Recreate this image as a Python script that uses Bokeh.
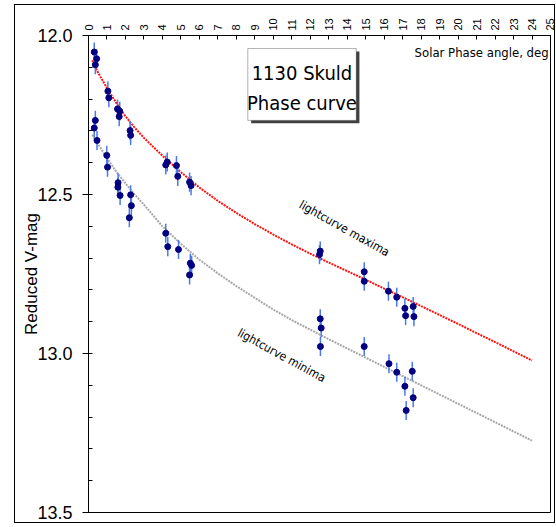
from bokeh.plotting import figure
from bokeh.models import (Range1d, SingleIntervalTicker, Label, BoxAnnotation,
                          ColumnDataSource, NumeralTickFormatter)
from bokeh.embed import file_html
from bokeh.resources import INLINE

# Phase-curve fits (solar phase angle in degrees vs reduced V magnitude)
fit_phase = [0.2, 0.5, 1, 1.5, 2, 2.5, 3, 4, 5, 6, 7, 8, 9, 10, 11, 12,
             13, 14, 15, 16, 17, 18, 19, 20, 21, 22, 23, 24]
fit_max = [12.078, 12.115, 12.165, 12.212, 12.254, 12.290, 12.322, 12.378,
           12.430, 12.478, 12.520, 12.558, 12.593, 12.626, 12.657, 12.686,
           12.714, 12.741, 12.768, 12.796, 12.823, 12.851, 12.879, 12.907,
           12.936, 12.964, 12.993, 13.022]
fit_min = [12.312, 12.340, 12.385, 12.428, 12.465, 12.500, 12.532, 12.600,
           12.655, 12.705, 12.748, 12.788, 12.825, 12.862, 12.895, 12.925,
           12.955, 12.984, 13.013, 13.042, 13.071, 13.100, 13.129, 13.158,
           13.187, 13.216, 13.245, 13.274]

# Observed lightcurve maxima
max_phase = [0.31, 0.44, 0.37, 1.05, 1.10, 1.57, 1.69, 1.66, 2.25, 2.28,
             4.18, 4.26, 4.76, 4.83, 5.47, 5.55, 12.54, 12.50, 14.92, 14.92,
             16.23, 16.68, 17.12, 17.16, 17.57, 17.61]
max_mag = [12.052, 12.073, 12.092, 12.175, 12.196, 12.231, 12.238, 12.255,
           12.299, 12.314, 12.407, 12.398, 12.409, 12.443, 12.461, 12.472,
           12.678, 12.689, 12.743, 12.773, 12.804, 12.823, 12.858, 12.881,
           12.852, 12.884]

# Observed lightcurve minima
min_phase = [0.37, 0.31, 0.46, 0.99, 1.03, 1.60, 1.59, 1.71, 2.28, 2.32,
             2.21, 4.18, 4.29, 4.87, 5.51, 5.58, 5.47, 12.54, 12.59, 12.55,
             14.92, 16.26, 16.68, 17.12, 17.19, 17.52, 17.57]
min_mag = [12.267, 12.291, 12.330, 12.377, 12.414, 12.463, 12.477, 12.503,
           12.501, 12.535, 12.573, 12.622, 12.664, 12.673, 12.716, 12.723,
           12.753, 12.891, 12.920, 12.978, 12.978, 13.032, 13.059, 13.103,
           13.179, 13.056, 13.139]

mag_err = 0.03

NARROW = "DejaVu Sans Condensed"
SANS = "Liberation Sans"

# page template: thin black frame drawn around the whole graphic
FRAME_TEMPLATE = """
{% block postamble %}
<style>
  body::after {
    content: "";
    position: absolute;
    left: 14px;
    top: 4px;
    width: 541px;
    height: 519px;
    box-sizing: border-box;
    border: 1px solid black;
    pointer-events: none;
  }
</style>
{% endblock %}
"""

p = figure(frame_width=462, frame_height=477, output_backend="svg",
           toolbar_location=None,
           x_range=Range1d(0, 25), y_range=Range1d(13.5, 12.0),
           x_axis_location="above", y_axis_location="left",
           min_border_left=88, min_border_right=6, min_border_top=35,
           min_border_bottom=15)
p.background_fill_color = "white"
p.border_fill_color = "white"
p.outline_line_color = "black"
p.outline_line_width = 1
p.xgrid.visible = False
p.ygrid.visible = False

# top axis: solar phase angle
xa = p.xaxis[0]
xa.ticker = SingleIntervalTicker(interval=1, num_minor_ticks=0)
xa.major_label_orientation = 1.5708
xa.major_label_text_font = SANS
xa.major_label_text_font_size = "11px"
xa.major_label_text_color = "black"
xa.major_label_standoff = 5
xa.major_tick_in = 4
xa.major_tick_out = 0
xa.minor_tick_line_color = None
xa.axis_line_color = "black"
xa.major_tick_line_color = "black"

# left axis: reduced magnitude
ya = p.yaxis[0]
ya.ticker = SingleIntervalTicker(interval=0.5, num_minor_ticks=5)
ya.formatter = NumeralTickFormatter(format="0.0")
ya.major_label_text_font = SANS
ya.major_label_text_font_size = "18px"
ya.major_label_text_color = "black"
ya.major_label_standoff = 10
ya.major_tick_out = 6
ya.major_tick_in = 3
ya.minor_tick_in = 4
ya.minor_tick_out = 0
ya.axis_line_color = "black"
ya.major_tick_line_color = "black"
ya.minor_tick_line_color = "black"
ya.axis_label = "Reduced V-mag"
ya.axis_label_text_font = SANS
ya.axis_label_text_font_style = "normal"
ya.axis_label_text_font_size = "17px"
ya.axis_label_text_color = "black"
ya.axis_label_standoff = -7

# fitted phase curves
fits = ColumnDataSource(dict(x=fit_phase, ymax=fit_max, ymin=fit_min))
p.line("x", "ymax", source=fits, line_color="#ff1010", line_width=2,
       line_dash="2 1")
p.line("x", "ymin", source=fits, line_color="#a8a8a8", line_width=2,
       line_dash="2 1")

# observations with error bars
for ph, mg in ((max_phase, max_mag), (min_phase, min_mag)):
    src = ColumnDataSource(dict(x=ph, y=mg,
                                lo=[m - mag_err for m in mg],
                                hi=[m + mag_err for m in mg]))
    p.segment(x0="x", y0="lo", x1="x", y1="hi", source=src,
              line_color="#4a78ee", line_width=1.5)
    p.scatter("x", "y", source=src, marker="circle", size=6,
              fill_color="#000080", line_color="#000080")

# title box with drop shadow
p.add_layout(BoxAnnotation(left=8.80, right=14.66, top=12.050, bottom=12.276,
                           fill_color="#404040", fill_alpha=1,
                           line_color=None, level="overlay"))
p.add_layout(BoxAnnotation(left=8.62, right=14.49, top=12.041, bottom=12.267,
                           fill_color="white", fill_alpha=1,
                           line_color="black", line_width=1, level="overlay"))
p.add_layout(Label(x=11.55, y=12.119, text="1130 Skuld", text_align="center",
                   text_baseline="middle", text_font=NARROW,
                   text_font_size="20px", text_color="black", level="overlay"))
p.add_layout(Label(x=11.55, y=12.211, text="Phase curve", text_align="center",
                   text_baseline="middle", text_font=NARROW,
                   text_font_size="20px", text_color="black", level="overlay"))

p.add_layout(Label(x=24.9, y=12.053, text="Solar Phase angle, deg",
                   text_align="right", text_baseline="middle",
                   text_font=NARROW, text_font_size="13px", text_color="black"))

p.add_layout(Label(x=13.85, y=12.607, text="lightcurve maxima",
                   text_align="center", text_baseline="middle", angle=-0.51,
                   text_font=NARROW, text_font_size="12px", text_color="black"))
p.add_layout(Label(x=10.45, y=13.006, text="lightcurve minima",
                   text_align="center", text_baseline="middle", angle=-0.50,
                   text_font=NARROW, text_font_size="12px", text_color="black"))

open("out.html", "w").write(file_html(p, INLINE, template=FRAME_TEMPLATE))
